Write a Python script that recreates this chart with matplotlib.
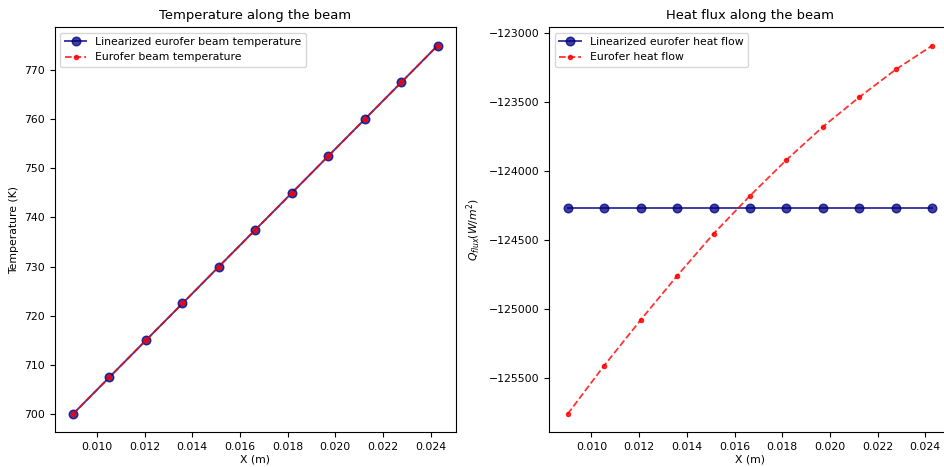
import matplotlib
matplotlib.use("Agg")
import matplotlib.pyplot as plt

x = [0.009, 0.01053, 0.01206, 0.01359, 0.01512, 0.01665, 0.01818, 0.01971, 0.02124, 0.02277, 0.0243]
temp_lin = [700.0, 707.5, 715.0, 722.5, 730.0, 737.5, 745.0, 752.5, 760.0, 767.5, 775.0]
temp_euro = [700.0, 707.5, 715.0, 722.5, 730.0, 737.5, 745.0, 752.5, 760.0, 767.5, 775.0]
flux_lin = [-124265] * 11
flux_euro = [-125760, -125410, -125080, -124760, -124455, -124180, -123920, -123680, -123465, -123265, -123092]

s = 0.787
plt.rcParams['font.size'] = 10 * s
fig = plt.figure(figsize=(9.44, 4.67), dpi=100)
ax1 = fig.add_axes([0.058, 0.074, 0.425, 0.868])
ax2 = fig.add_axes([0.582, 0.074, 0.425, 0.868])

ax1.plot(x, temp_lin, '-o', color='navy', alpha=0.75, ms=6.2, lw=1.4,
         label='Linearized eurofer beam temperature')
ax1.plot(x, temp_euro, '--.', color='red', alpha=0.8, ms=6, lw=1.3,
         label='Eurofer beam temperature')
ax1.set_title('Temperature along the beam', fontsize=12 * s)
ax1.set_xlabel('X (m)', labelpad=2)
ax1.set_ylabel('Temperature (K)')
ax1.legend(loc='upper left')

ax2.plot(x, flux_lin, '-o', color='navy', alpha=0.75, ms=6.2, lw=1.4,
         label='Linearized eurofer heat flow')
ax2.plot(x, flux_euro, '--.', color='red', alpha=0.8, ms=6, lw=1.3,
         label='Eurofer heat flow')
ax2.set_title('Heat flux along the beam', fontsize=12 * s)
ax2.set_xlabel('X (m)', labelpad=2)
ax2.set_ylabel(r'$Q_{flux} (W/m^2)$')
ax2.legend(loc='upper left')

for ax in (ax1, ax2):
    ax.set_xticks([0.010, 0.012, 0.014, 0.016, 0.018, 0.020, 0.022, 0.024])

fig.savefig('out.png', dpi=100)
